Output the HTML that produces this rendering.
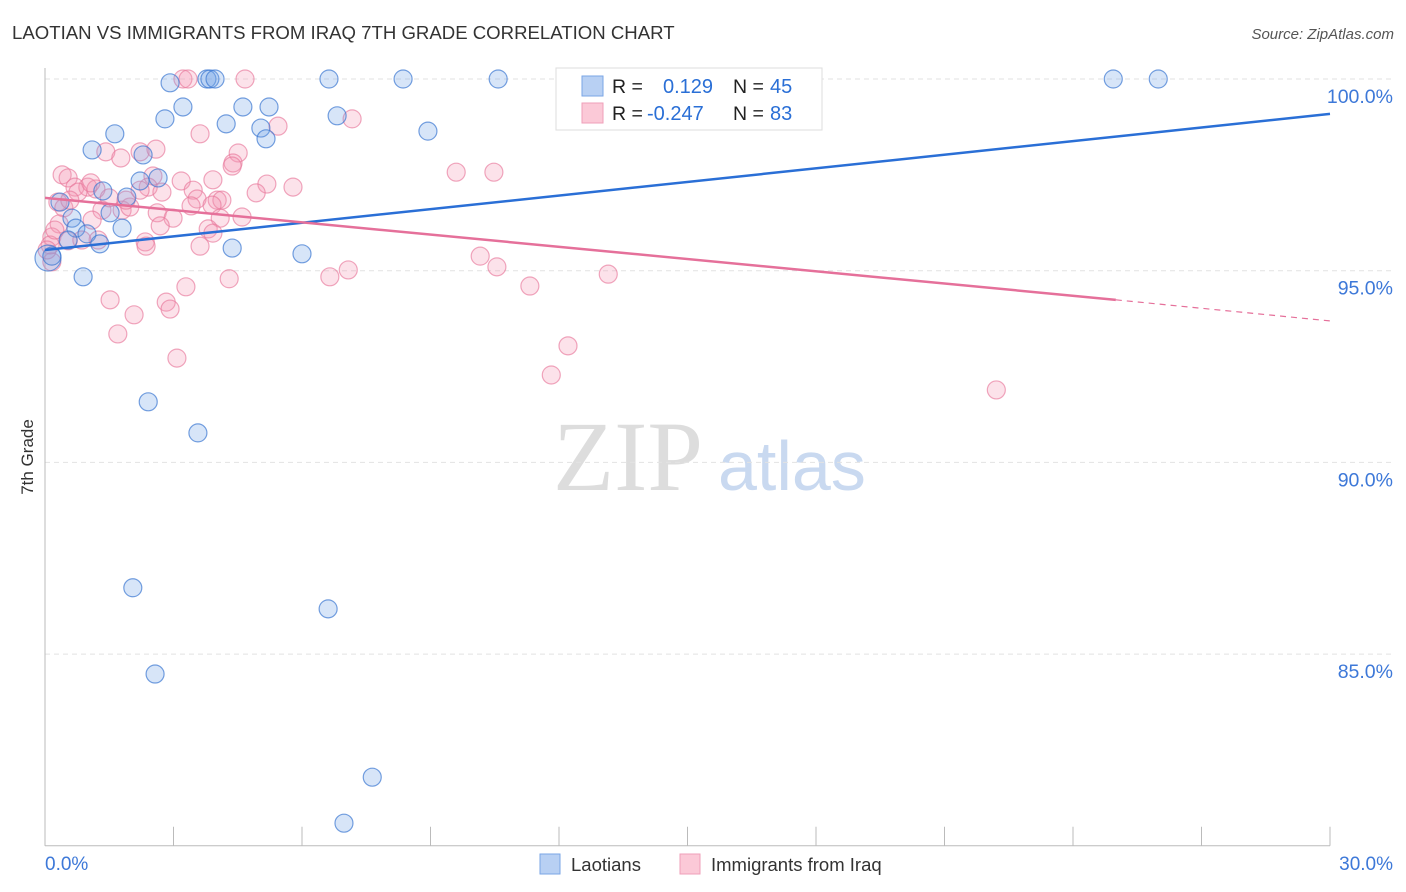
<!DOCTYPE html>
<html><head><meta charset="utf-8"><style>
body{margin:0;background:#fff;font-family:"Liberation Sans",sans-serif;}
svg{display:block}
</style></head><body>
<svg id="c" width="1406" height="892">
<text x="12" y="39" font-size="18.6" fill="#333">LAOTIAN VS IMMIGRANTS FROM IRAQ 7TH GRADE CORRELATION CHART</text>
<text x="1394" y="39" font-size="15" fill="#555" text-anchor="end" font-style="italic">Source: ZipAtlas.com</text>
<text x="33" y="457" font-size="17" fill="#333" text-anchor="middle" transform="rotate(-90 33 457)">7th Grade</text>
<text x="553" y="490" font-size="100" fill="#ddd" font-family="Liberation Serif,serif">ZIP</text>
<text x="718" y="490" font-size="70" fill="#c9d9f0">atlas</text>
<g id="grid"></g><g id="axes"></g><g id="pts"></g><g id="lines"></g>
<g>
<rect x="556" y="68" width="266" height="62" fill="#fff" stroke="#ddd"/>
<rect x="582" y="76" width="21" height="20" fill="#b8d0f3" stroke="#7aa6e6"/>
<rect x="582" y="103" width="21" height="20" fill="#fbc9d7" stroke="#ef9fb8"/>
<text x="612" y="93" font-size="19.5" fill="#222">R = </text><text x="663" y="93" font-size="20" fill="#2a6fd6">0.129</text>
<text x="733" y="93" font-size="19.5" fill="#222">N = </text><text x="770" y="93" font-size="20" fill="#2a6fd6">45</text>
<text x="612" y="120" font-size="19.5" fill="#222">R = </text><text x="647" y="120" font-size="20" fill="#2a6fd6">-0.247</text>
<text x="733" y="120" font-size="19.5" fill="#222">N = </text><text x="770" y="120" font-size="20" fill="#2a6fd6">83</text>
</g>
<g>
<rect x="540" y="854" width="20" height="20" fill="#b8d0f3" stroke="#7aa6e6"/>
<text x="571" y="871" font-size="18.5" fill="#333">Laotians</text>
<rect x="680" y="854" width="20" height="20" fill="#fbc9d7" stroke="#ef9fb8"/>
<text x="711" y="871" font-size="18.5" fill="#333">Immigrants from Iraq</text>
</g>
</svg>
<script>
const xTicks=[0,3,6,9,12,15,18,21,24,27,30];
const yTicks=[100,95,90,85];
const yTickLabels=["100.0%","95.0%","90.0%","85.0%"];
const blueX=[2.92,3.78,3.85,3.97,6.63,8.36,10.58,24.94,25.99,3.22,4.62,5.23,2.80,4.23,6.82,5.04,5.16,8.94,1.63,1.10,2.29,2.22,2.64,1.91,1.35,0.35,0.63,1.52,1.80,0.72,0.98,1.28,0.54,4.37,6.00,0.07,0.16,0.89,2.41,3.57,2.05,6.61,2.57,7.64,6.98];
const blueY=[99.9,100,100,100,100,100,100,100,100,99.27,99.27,99.27,98.96,98.83,99.04,98.72,98.44,98.64,98.57,98.15,98.02,97.34,97.42,96.92,97.08,96.79,96.37,96.51,96.11,96.11,95.96,95.70,95.80,95.59,95.44,95.33,95.38,94.84,91.58,90.77,86.73,86.18,84.48,81.79,80.59];
const pinkX=[3.22,3.34,4.67,14.10,3.62,5.44,7.17,1.42,1.77,2.22,2.59,4.51,4.39,4.37,0.40,0.54,0.70,1.00,1.19,0.77,1.07,2.52,2.41,2.73,3.18,3.46,3.92,5.18,5.79,4.93,4.02,3.55,4.13,3.90,0.30,0.44,1.33,1.80,1.98,1.89,2.62,1.10,2.99,3.41,4.09,4.60,3.81,3.92,2.69,0.33,0.16,0.54,1.24,0.86,2.34,2.36,3.62,0.12,0.16,1.52,2.83,2.92,2.08,1.70,3.29,4.30,3.08,6.65,7.08,9.60,10.48,10.16,10.55,11.32,13.15,12.21,11.82,22.21,0.05,0.23,0.58,2.22,1.50];
const pinkY=[100,100,100,100,98.57,98.77,98.96,98.10,97.94,98.10,98.17,98.07,97.81,97.73,97.50,97.42,97.18,97.18,97.13,97.05,97.29,97.47,97.18,97.05,97.34,97.10,97.37,97.26,97.18,97.03,96.84,96.87,96.84,96.71,96.79,96.64,96.58,96.58,96.66,96.84,96.51,96.32,96.37,96.69,96.37,96.40,96.09,95.98,96.17,96.22,95.88,95.78,95.80,95.80,95.75,95.64,95.64,95.67,95.23,94.24,94.18,94.00,93.85,93.35,94.58,94.79,92.72,94.84,95.02,97.57,97.57,95.38,95.10,94.60,94.91,93.04,92.28,91.89,95.54,96.06,96.84,97.10,96.90];
const blueTrend=[[0,95.54],[30,99.09]];
const pinkTrend=[[0,96.90],[25,94.24],[30,93.69]];
const X0=45,X1=1330,Y100=79,PER5=191.7;
const sx=v=>X0+(v/30)*(X1-X0);
const sy=v=>Y100+(100-v)/5*PER5;
const NS="http://www.w3.org/2000/svg";
function mk(p,t,a){const e=document.createElementNS(NS,t);for(const k in a)e.setAttribute(k,a[k]);p.appendChild(e);return e;}
const grid=document.getElementById('grid'),axes=document.getElementById('axes'),pts=document.getElementById('pts'),lines=document.getElementById('lines');
yTicks.forEach((t,i)=>{
 const l=mk(grid,'line',{x1:X0,x2:1394,y1:sy(t),y2:sy(t),stroke:'#e2e2e2','stroke-dasharray':'5,4'});
 
 
 const tx=mk(grid,'text',{x:1393,y:sy(t)+24,'font-size':19.5,fill:'#3d78d8','text-anchor':'end'});
 tx.textContent=yTickLabels[i];
 
 
});
const ya=mk(axes,'line',{x1:X0,x2:X0,y1:68,y2:sy(80),stroke:'#bbb'});


const xa=mk(axes,'line',{x1:X0,x2:X1,y1:sy(80),y2:sy(80),stroke:'#bbb'});


xTicks.forEach(t=>{
 const tk=mk(axes,'line',{x1:sx(t),x2:sx(t),y1:sy(80)-19,y2:sy(80),stroke:'#bbb'});
 
 
});
[[0,'0.0%','start',45],[30,'30.0%','end',1393]].forEach(a=>{
 const tx=mk(axes,'text',{x:a[3],y:870,'font-size':19,fill:'#3d78d8','text-anchor':a[2]});
 tx.textContent=a[1];
 
 
});
pinkX.forEach((x,i)=>{
 const c=mk(pts,'circle',{cx:sx(x),cy:sy(pinkY[i]),r:9,fill:'rgba(243,150,178,0.28)',stroke:'rgba(232,120,155,0.65)','stroke-width':1.2});
 
 
});
blueX.forEach((x,i)=>{
 const c=mk(pts,'circle',{cx:sx(x),cy:sy(blueY[i]),r:(i===35?13:9),fill:'rgba(110,160,230,0.28)',stroke:'rgba(60,120,210,0.7)','stroke-width':1.2});
 
 
});
const bl=mk(lines,'line',{x1:sx(blueTrend[0][0]),y1:sy(blueTrend[0][1]),x2:sx(blueTrend[1][0]),y2:sy(blueTrend[1][1]),stroke:'#2a6fd6','stroke-width':2.5});


const pl=mk(lines,'line',{x1:sx(pinkTrend[0][0]),y1:sy(pinkTrend[0][1]),x2:sx(pinkTrend[1][0]),y2:sy(pinkTrend[1][1]),stroke:'#e5709a','stroke-width':2.5});


const pd=mk(lines,'line',{x1:sx(pinkTrend[1][0]),y1:sy(pinkTrend[1][1]),x2:sx(pinkTrend[2][0]),y2:sy(pinkTrend[2][1]),stroke:'#e5709a','stroke-width':1.2,'stroke-dasharray':'6,5'});


</script>
</body></html>
